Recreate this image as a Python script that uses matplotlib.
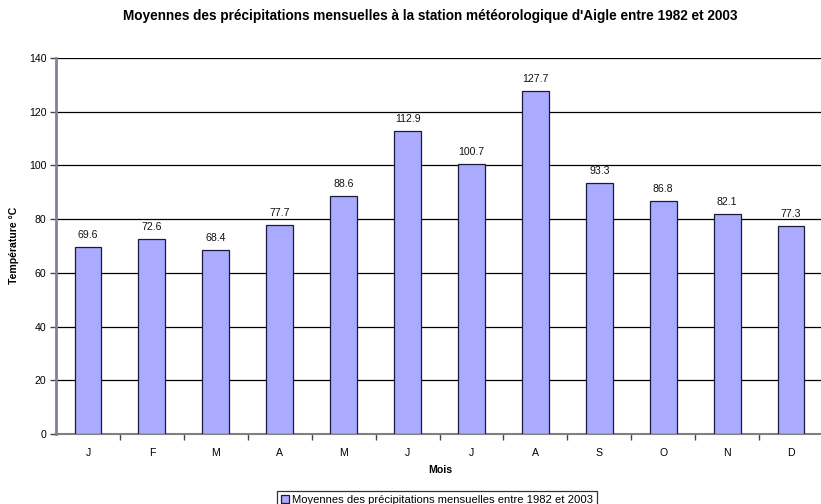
import matplotlib
matplotlib.use("Agg")
import matplotlib.pyplot as plt
from matplotlib.ticker import FixedLocator, NullFormatter

plt.rcParams['font.family'] = ['Liberation Sans', 'DejaVu Sans']

months = ["J", "F", "M", "A", "M", "J", "J", "A", "S", "O", "N", "D"]
precip = [69.6, 72.6, 68.4, 77.7, 88.6, 112.9, 100.7, 127.7, 93.3, 86.8, 82.1, 77.3]
yticks = [0, 20, 40, 60, 80, 100, 120, 140]
series_label = "Moyennes des précipitations mensuelles entre 1982 et 2003"
title = "Moyennes des précipitations mensuelles à la station météorologique d'Aigle entre 1982 et 2003"

W, H = 821, 504
fig = plt.figure(figsize=(W / 100, H / 100), dpi=100)
ax = fig.add_axes([56 / W, (H - 434) / H, 767 / W, 376 / H])

x = list(range(len(months)))
bars = ax.bar(x, precip, width=0.42, color="#AAAAFF", edgecolor="#1a1a3a",
              linewidth=0.9, zorder=3, label=series_label)

for xi, v in zip(x, precip):
    ax.annotate(f"{v:.1f}", (xi, v), xytext=(0, 5), textcoords="offset points",
                ha="center", va="bottom", fontsize=7.6, color="#111111")

ax.set_xlim(-0.5, len(months) - 0.5)
ax.set_ylim(0, 140)
ax.set_yticks(yticks)
ax.set_yticklabels([str(t) for t in yticks])
ax.yaxis.grid(True, color="black", linewidth=0.9, zorder=0)
ax.set_axisbelow(True)

ax.set_xticks(x)
ax.set_xticklabels(months)
ax.tick_params(axis="x", which="major", length=0, pad=10, labelsize=7.6)
ax.xaxis.set_minor_locator(FixedLocator([i + 0.5 for i in range(len(months))]))
ax.xaxis.set_minor_formatter(NullFormatter())
ax.tick_params(axis="x", which="minor", length=4, width=1, color="#444444", direction="out")
ax.tick_params(axis="y", length=4, width=1, color="#444444", direction="out", pad=3, labelsize=7.6)

for s in ("top", "right"):
    ax.spines[s].set_visible(False)
ax.spines["left"].set_color("#8080A0")
ax.spines["left"].set_linewidth(2)
ax.spines["bottom"].set_color("#808080")
ax.spines["bottom"].set_linewidth(1.5)
ax.spines["bottom"].set_zorder(2.5)

fig.text(430 / W, 1 - 16 / H, title, ha="center", va="center",
         fontsize=9.8, fontweight="bold")
fig.text(440 / W, 1 - 470 / H, "Mois", ha="center", va="center",
         fontsize=7.6, fontweight="bold")
fig.text(14 / W, 1 - 245 / H, "Température °C", ha="center", va="center",
         rotation=90, fontsize=7.6, fontweight="bold")

leg = fig.legend(handles=[bars], labels=[series_label], loc="upper center",
                 bbox_to_anchor=(437 / W, 1 - 491 / H), fontsize=8.1,
                 frameon=True, fancybox=False, edgecolor="black",
                 handlelength=0.7, handleheight=0.7, handletextpad=0.3,
                 borderpad=0.35, borderaxespad=0)
leg.get_frame().set_linewidth(0.9)

fig.savefig("out.png", dpi=100)
